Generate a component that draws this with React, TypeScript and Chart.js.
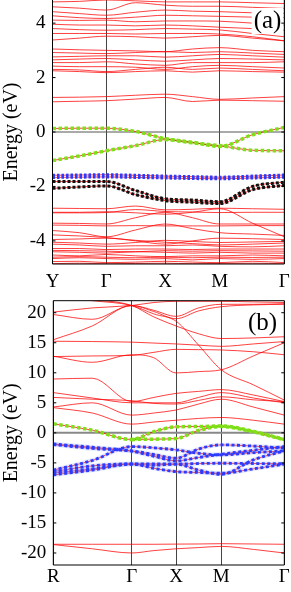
import React, { useEffect, useRef } from 'react';
import { Chart, registerables } from 'chart.js';
Chart.register(...registerables);

const FONT = '"Liberation Serif", "Times New Roman", serif';

// ---------- Panel (a) ----------
const kTicksA = [0, 53.8, 112.5, 167.2, 231.8];
const kLabelsA = ['Y', 'Γ', 'X', 'M', 'Γ'];
const kGridA = [0, 27, 53.8, 83, 112.5, 140, 167.2, 200, 231.8];
const yTicksA = [-4, -2, 0, 2, 4];

const condHighA = [
  [4.78, 4.80, 4.85, 4.82, 4.78, 4.78, 4.78, 4.75, 4.72],
  [4.60, 4.55, 4.48, 4.75, 4.66, 4.62, 4.62, 4.58, 4.54],
  [4.42, 4.35, 4.29, 4.40, 4.48, 4.44, 4.42, 4.38, 4.36],
  [4.27, 4.20, 4.17, 4.22, 4.29, 4.27, 4.25, 4.22, 4.21],
  [4.11, 4.10, 4.11, 4.05, 4.08, 4.08, 4.07, 4.00, 3.93],
  [3.96, 3.93, 3.93, 3.90, 3.93, 3.90, 3.85, 3.80, 3.74],
  [3.80, 3.76, 3.74, 3.76, 3.80, 3.78, 3.75, 3.62, 3.50],
  [3.62, 3.62, 3.62, 3.60, 3.62, 3.62, 3.60, 3.50, 3.35],
  [3.38, 3.45, 3.52, 3.50, 3.45, 3.50, 3.55, 3.45, 3.35],
];
const condMidA = [
  [3.05, 3.02, 3.00, 2.98, 2.95, 3.05, 3.10, 3.00, 2.95],
  [2.92, 2.90, 2.88, 2.92, 2.95, 2.92, 2.95, 2.90, 2.85],
  [2.76, 2.78, 2.80, 2.80, 2.75, 2.80, 2.85, 2.80, 2.75],
  [2.65, 2.68, 2.70, 2.65, 2.60, 2.65, 2.70, 2.68, 2.65],
  [2.55, 2.55, 2.58, 2.50, 2.45, 2.55, 2.55, 2.55, 2.58],
  [2.42, 2.40, 2.40, 2.38, 2.30, 2.40, 2.45, 2.40, 2.35],
  [2.30, 2.28, 2.22, 2.30, 2.38, 2.30, 2.35, 2.30, 2.25],
  [2.25, 2.22, 2.18, 2.22, 2.25, 2.20, 2.25, 2.22, 2.20],
];
const condLowA = [
  [1.27, 1.28, 1.30, 1.35, 1.39, 1.30, 1.20, 1.25, 1.30],
  [1.11, 1.13, 1.15, 1.21, 1.27, 1.12, 1.17, 1.15, 1.13],
];
const greenA = [
  [0.13, 0.14, 0.14, 0.02, -0.24, -0.40, -0.50, -0.67, -0.69],
  [-1.05, -0.88, -0.69, -0.50, -0.28, -0.38, -0.53, -0.10, 0.17],
];
const blueA = [
  [-1.59, -1.58, -1.57, -1.59, -1.62, -1.64, -1.66, -1.62, -1.58],
  [-1.67, -1.66, -1.65, -1.67, -1.69, -1.71, -1.72, -1.69, -1.66],
];
const blackA = [
  [-1.82, -1.82, -1.82, -2.15, -2.45, -2.50, -2.56, -2.00, -1.84],
  [-2.07, -2.02, -1.98, -2.30, -2.52, -2.58, -2.63, -2.12, -1.96],
];
const valenceA = [
  [-2.80, -2.81, -2.82, -2.72, -2.86, -2.84, -2.80, -2.82, -2.84],
  [-2.95, -2.95, -2.93, -2.97, -3.02, -2.95, -2.82, -3.35, -3.85],
  [-2.97, -2.97, -2.96, -2.85, -2.92, -2.94, -2.96, -2.95, -2.95],
  [-3.35, -3.36, -3.38, -3.15, -2.95, -3.15, -3.38, -3.38, -3.38],
  [-3.42, -3.43, -3.45, -3.44, -3.45, -3.45, -3.45, -3.44, -3.44],
  [-3.62, -3.70, -3.85, -3.60, -3.38, -3.55, -3.70, -3.75, -3.80],
  [-3.78, -3.82, -3.88, -4.00, -4.12, -4.00, -3.90, -3.92, -3.95],
  [-3.95, -3.93, -3.90, -3.98, -4.05, -4.10, -4.15, -4.12, -4.08],
  [-4.05, -4.08, -4.12, -4.06, -3.98, -4.02, -4.06, -4.04, -4.02],
  [-4.12, -4.15, -4.20, -4.18, -4.18, -4.15, -4.20, -4.22, -4.18],
  [-4.28, -4.28, -4.32, -4.30, -4.30, -4.32, -4.30, -4.30, -4.30],
  [-4.35, -4.36, -4.38, -4.40, -4.36, -4.38, -4.36, -4.37, -4.38],
  [-4.40, -4.42, -4.45, -4.40, -4.42, -4.45, -4.42, -4.45, -4.45],
  [-4.52, -4.55, -4.50, -4.55, -4.58, -4.55, -4.55, -4.52, -4.55],
  [-4.60, -4.58, -4.60, -4.62, -4.60, -4.62, -4.60, -4.61, -4.60],
  [-4.65, -4.62, -4.65, -4.68, -4.65, -4.70, -4.65, -4.68, -4.65],
  [-4.76, -4.75, -4.80, -4.78, -4.75, -4.78, -4.80, -4.75, -4.80],
  [-4.84, -4.82, -4.84, -4.83, -4.82, -4.84, -4.83, -4.82, -4.84],
];

// ---------- Panel (b) ----------
const kTicksB = [0, 78.4, 122.7, 168, 231];
const kLabelsB = ['R', 'Γ', 'X', 'M', 'Γ'];
const kGridB = [0, 39, 78.4, 100.5, 122.7, 145.3, 168, 200, 231];
const yTicksB = [-20, -15, -10, -5, 0, 5, 10, 15, 20];

const condHighB = [
  [20.1, 20.8, 21.2, 21.7, 21.9, 21.9, 21.9, 21.8, 21.7],
  [19.7, 18.9, 21.2, 20.4, 19.4, 20.8, 21.4, 21.4, 21.5],
  [15.5, 17.8, 21.2, 20.2, 19.0, 20.3, 21.0, 21.3, 21.4],
  [22.8, 22.0, 21.2, 19.8, 18.6, 14.6, 10.5, 8.0, 5.45],
  [23.0, 22.2, 21.2, 19.3, 17.8, 16.5, 15.7, 15.8, 16.0],
  [15.25, 15.2, 15.1, 14.95, 14.8, 14.6, 14.4, 14.8, 15.2],
  [12.75, 11.75, 13.0, 12.5, 9.97, 10.2, 10.5, 12.8, 15.0],
  [12.7, 12.8, 12.9, 13.4, 13.9, 13.85, 13.8, 13.5, 13.0],
];
const condLowB = [
  [8.96, 9.1, 5.2, 5.9, 6.57, 6.9, 7.2, 6.3, 5.2],
  [6.7, 5.8, 5.0, 5.0, 5.0, 5.9, 6.7, 5.8, 5.0],
  [5.9, 5.6, 5.35, 4.9, 4.8, 5.4, 6.0, 5.5, 5.2],
  [4.3, 5.0, 2.95, 3.3, 3.8, 4.8, 5.6, 4.3, 2.95],
  [4.2, 3.3, 1.45, 1.8, 2.1, 2.4, 2.56, 2.1, 1.45],
];
const greenB = [
  [1.5, 0.45, -1.1, 0.2, 1.0, 1.05, 1.15, 0.25, -1.1],
  [null, null, -1.1, -1.05, -0.95, 0.4, 1.05, 0.15, -1.15],
];
const blueB = [
  [-1.85, -2.4, -3.0, -3.6, -4.22, -2.7, -2.0, -2.2, -2.55],
  [-1.95, -2.6, -3.05, -3.9, -4.67, -4.1, -3.56, -2.9, -2.28],
  [-6.2, -4.6, -2.28, -2.5, -2.83, -3.4, -3.67, -3.3, -3.0],
  [-6.45, -5.5, -5.15, -5.15, -5.2, -5.1, -5.06, -5.1, -5.15],
  [-7.0, -6.2, -5.2, -5.9, -6.45, -6.6, -6.73, -6.0, -5.2],
  [-6.7, -6.0, -5.2, -5.4, -5.2, -6.2, -6.9, -4.5, -3.0],
];
const deepB = [
  [-18.55, -18.55, -18.55, -18.55, -18.52, -18.5, -18.45, -18.5, -18.55],
  [-18.6, -19.3, -20.0, -19.6, -19.3, -19.1, -18.9, -19.4, -20.0],
];

const RED = 'rgba(255,0,0,0.75)';
const GREEN = '#7fe019';
const BLUE = '#2b3bff';
const BLACK = '#111111';

function band(kGrid: number[], vals: (number | null)[], color: string, width: number, dash: number[] = [], order = 10) {
  return {
    data: vals.map((v, i) => ({ x: kGrid[i], y: v })),
    borderColor: color,
    borderWidth: width,
    borderDash: dash,
    borderCapStyle: 'butt',
    pointRadius: 0,
    fill: false,
    cubicInterpolationMode: 'monotone',
    spanGaps: false,
    order,
  };
}

function framePlugin(label: string, lx: number, ly: number, showTop: boolean, zeroColor: string, zeroWidth: number) {
  return {
    id: 'frame' + label,
    beforeDatasetsDraw(chart: any) {
      const { ctx, chartArea: a, scales } = chart;
      const y0 = scales.y.getPixelForValue(0);
      ctx.save();
      ctx.strokeStyle = zeroColor;
      ctx.lineWidth = zeroWidth;
      ctx.beginPath();
      ctx.moveTo(a.left, y0);
      ctx.lineTo(a.right, y0);
      ctx.stroke();
      ctx.restore();
    },
    afterDatasetsDraw(chart: any) {
      const { ctx, chartArea: a, scales } = chart;
      ctx.save();
      ctx.font = `25px ${FONT}`;
      const w = ctx.measureText(label).width;
      ctx.fillStyle = '#fff';
      ctx.fillRect(lx - w / 2 - 2, ly - 13, w + 4, 26);
      ctx.fillStyle = '#000';
      ctx.textAlign = 'center';
      ctx.textBaseline = 'middle';
      ctx.fillText(label, lx, ly);
      ctx.strokeStyle = '#000';
      ctx.lineWidth = 1;
      ctx.beginPath();
      if (showTop) {
        ctx.moveTo(a.left, a.top);
        ctx.lineTo(a.right, a.top);
      }
      ctx.moveTo(a.left, a.top);
      ctx.lineTo(a.left, a.bottom);
      ctx.lineTo(a.right, a.bottom);
      ctx.lineTo(a.right, a.top);
      scales.y.ticks.forEach((t: any) => {
        const py = scales.y.getPixelForValue(t.value);
        ctx.moveTo(a.left, py);
        ctx.lineTo(a.left + 3, py);
        ctx.moveTo(a.right, py);
        ctx.lineTo(a.right - 3, py);
      });
      ctx.stroke();
      ctx.restore();
    },
  };
}

function makeOptions(p: {
  kTicks: number[]; kLabels: string[]; yTicks: number[]; yMin: number; yMax: number;
  yWidth: number; xHeight: number; padTop: number; padRight: number; xPad: number;
}) {
  return {
    animation: false,
    responsive: false,
    devicePixelRatio: 1,
    events: [],
    layout: { padding: { left: 0, right: p.padRight, top: p.padTop, bottom: 0 } },
    plugins: { legend: { display: false }, tooltip: { enabled: false } },
    scales: {
      x: {
        type: 'linear',
        min: 0,
        max: p.kTicks[p.kTicks.length - 1],
        afterBuildTicks: (s: any) => { s.ticks = p.kTicks.map((v) => ({ value: v })); },
        afterFit: (s: any) => { s.height = p.xHeight; s.paddingLeft = 0; s.paddingRight = 0; },
        ticks: {
          callback: (v: number) => p.kLabels[p.kTicks.indexOf(v)],
          font: { family: FONT, size: 19 },
          color: '#000',
          padding: p.xPad,
          maxRotation: 0,
          autoSkip: false,
        },
        grid: { color: '#444', lineWidth: 1, drawTicks: false },
        border: { display: false },
      },
      y: {
        type: 'linear',
        min: p.yMin,
        max: p.yMax,
        afterBuildTicks: (s: any) => { s.ticks = p.yTicks.map((v) => ({ value: v })); },
        afterFit: (s: any) => { s.width = p.yWidth; s.paddingTop = 0; s.paddingBottom = 0; },
        ticks: {
          callback: (v: number) => String(v),
          font: { family: FONT, size: 19 },
          color: '#000',
          padding: 7,
        },
        grid: { display: false, drawTicks: false },
        border: { display: false },
        title: {
          display: true,
          text: 'Energy (eV)',
          font: { family: FONT, size: 20 },
          color: '#000',
          padding: { top: 0, bottom: 0 },
        },
      },
    },
  };
}

export default function App() {
  const refA = useRef<HTMLCanvasElement>(null);
  const refB = useRef<HTMLCanvasElement>(null);

  useEffect(() => {
    const dsA: any[] = [];
    [...condHighA, ...condMidA, ...condLowA, ...greenA, ...blueA, ...blackA, ...valenceA].forEach((b) =>
      dsA.push(band(kGridA, b, RED, 1)));
    greenA.forEach((b) => dsA.push(band(kGridA, b, GREEN, 3.5, [3.5, 2.5], 1)));
    blueA.forEach((b) => dsA.push(band(kGridA, b, BLUE, 3, [2.5, 2], 1)));
    blackA.forEach((b) => dsA.push(band(kGridA, b, BLACK, 3, [3, 2], 1)));

    const dsB: any[] = [];
    [...condHighB, ...condLowB, ...greenB, ...blueB, ...deepB].forEach((b) =>
      dsB.push(band(kGridB, b, RED, 1)));
    blueB.forEach((b) => dsB.push(band(kGridB, b, 'rgba(120,140,255,0.18)', 4.5, [], 2)));
    greenB.forEach((b) => dsB.push(band(kGridB, b, GREEN, 3.5, [3.5, 2.5], 1)));
    blueB.forEach((b) => dsB.push(band(kGridB, b, BLUE, 2.8, [3, 2.5], 1)));

    const chartA = new Chart(refA.current as HTMLCanvasElement, {
      type: 'line',
      data: { datasets: dsA },
      options: makeOptions({
        kTicks: kTicksA, kLabels: kLabelsA, yTicks: yTicksA, yMin: -4.85, yMax: 4.85,
        yWidth: 52.5, xHeight: 26, padTop: 0, padRight: 6.7, xPad: 7,
      }) as any,
      plugins: [framePlugin('(a)', 267.5, 21, false, '#555', 1)],
    });
    const chartB = new Chart(refB.current as HTMLCanvasElement, {
      type: 'line',
      data: { datasets: dsB },
      options: makeOptions({
        kTicks: kTicksB, kLabels: kLabelsB, yTicks: yTicksB, yMin: -22, yMax: 22,
        yWidth: 53.3, xHeight: 27, padTop: 10.7, padRight: 6.7, xPad: 1,
      }) as any,
      plugins: [framePlugin('(b)', 262.5, 33, true, '#888', 2)],
    });
    return () => {
      chartA.destroy();
      chartB.destroy();
    };
  }, []);

  return (
    <div style={{ position: 'fixed', left: 0, top: 0, width: 291, height: 592, background: '#fff' }}>
      <canvas ref={refA} width={291} height={290} style={{ position: 'absolute', left: 0, top: 0, width: 291, height: 290 }} />
      <canvas ref={refB} width={291} height={302} style={{ position: 'absolute', left: 0, top: 290, width: 291, height: 302 }} />
    </div>
  );
}
